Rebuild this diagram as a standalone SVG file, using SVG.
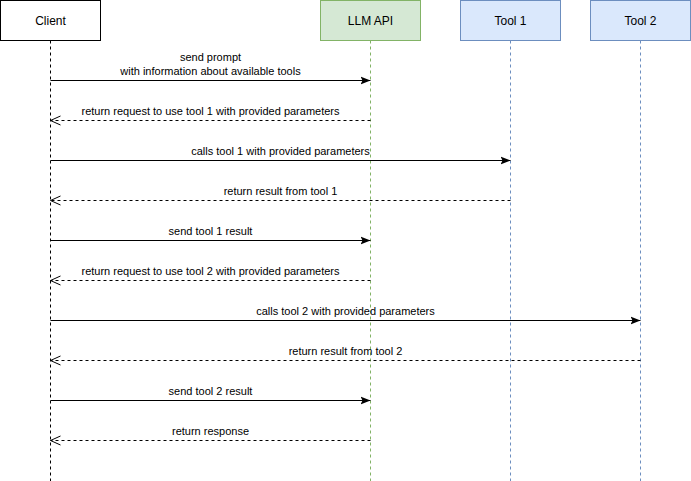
<svg xmlns="http://www.w3.org/2000/svg" width="691" height="481" viewBox="0 0 691 481">
<defs>
<marker id="fill" viewBox="0 0 10 10" refX="10" refY="5" markerWidth="10" markerHeight="10" markerUnits="userSpaceOnUse" orient="auto"><path d="M0,1 L10,5 L0,9 L2,5 Z" fill="#000"/></marker>
<marker id="open" viewBox="0 0 12 12" refX="11" refY="6" markerWidth="12" markerHeight="12" markerUnits="userSpaceOnUse" orient="auto"><path d="M1,1.5 L11,6 L1,10.5" fill="none" stroke="#000" stroke-width="1"/></marker>
</defs>
<style>
text{font-family:"Liberation Sans",Arial,sans-serif;fill:#000;text-anchor:middle}
.hd{font-size:12px}
.lb{font-size:11px}
.life{fill:none;stroke-dasharray:3 3;stroke-width:1}
.call{stroke:#000;stroke-width:1;fill:none;marker-end:url(#fill)}
.ret{stroke:#000;stroke-width:1;fill:none;stroke-dasharray:3 3;marker-end:url(#open)}
</style>
<rect width="691" height="481" fill="#fff"/>
<g id="client">
<rect x="0.5" y="0.5" width="100" height="40" fill="#fff" stroke="#000"/>
<text class="hd" x="50.5" y="24.5">Client</text>
<line class="life" x1="50.5" y1="40.5" x2="50.5" y2="481" stroke="#000"/>
</g>
<g id="llm">
<rect x="320.5" y="0.5" width="100" height="40" fill="#d5e8d4" stroke="#82b366"/>
<text class="hd" x="370.5" y="24.5">LLM API</text>
<line class="life" x1="370.5" y1="40.5" x2="370.5" y2="481" stroke="#82b366"/>
</g>
<g id="tool1">
<rect x="460.5" y="0.5" width="100" height="40" fill="#dae8fc" stroke="#6c8ebf"/>
<text class="hd" x="510.5" y="24.5">Tool 1</text>
<line class="life" x1="510.5" y1="40.5" x2="510.5" y2="481" stroke="#6c8ebf"/>
</g>
<g id="tool2">
<rect x="590.5" y="0.5" width="100" height="40" fill="#dae8fc" stroke="#6c8ebf"/>
<text class="hd" x="640.5" y="24.5">Tool 2</text>
<line class="life" x1="640.5" y1="40.5" x2="640.5" y2="481" stroke="#6c8ebf"/>
</g>
<g id="connectors">
<line class="call" x1="50.5" y1="80.5" x2="370.5" y2="80.5"/>
<text class="lb" x="210.5" y="61">send prompt</text>
<text class="lb" x="210.5" y="75">with information about available tools</text>
<line class="ret" x1="370.5" y1="120.5" x2="50.5" y2="120.5"/>
<text class="lb" x="210.5" y="115">return request to use tool 1 with provided parameters</text>
<line class="call" x1="50.5" y1="160.5" x2="510.5" y2="160.5"/>
<text class="lb" x="280.5" y="155">calls tool 1 with provided parameters</text>
<line class="ret" x1="510.5" y1="200.5" x2="50.5" y2="200.5"/>
<text class="lb" x="280.5" y="195">return result from tool 1</text>
<line class="call" x1="50.5" y1="240.5" x2="370.5" y2="240.5"/>
<text class="lb" x="210.5" y="235">send tool 1 result</text>
<line class="ret" x1="370.5" y1="280.5" x2="50.5" y2="280.5"/>
<text class="lb" x="210.5" y="275">return request to use tool 2 with provided parameters</text>
<line class="call" x1="50.5" y1="320.5" x2="640.5" y2="320.5"/>
<text class="lb" x="345.5" y="315">calls tool 2 with provided parameters</text>
<line class="ret" x1="640.5" y1="360.5" x2="50.5" y2="360.5"/>
<text class="lb" x="345.5" y="355">return result from tool 2</text>
<line class="call" x1="50.5" y1="400.5" x2="370.5" y2="400.5"/>
<text class="lb" x="210.5" y="395">send tool 2 result</text>
<line class="ret" x1="370.5" y1="440.5" x2="50.5" y2="440.5"/>
<text class="lb" x="210.5" y="435">return response</text>
</g>
</svg>
